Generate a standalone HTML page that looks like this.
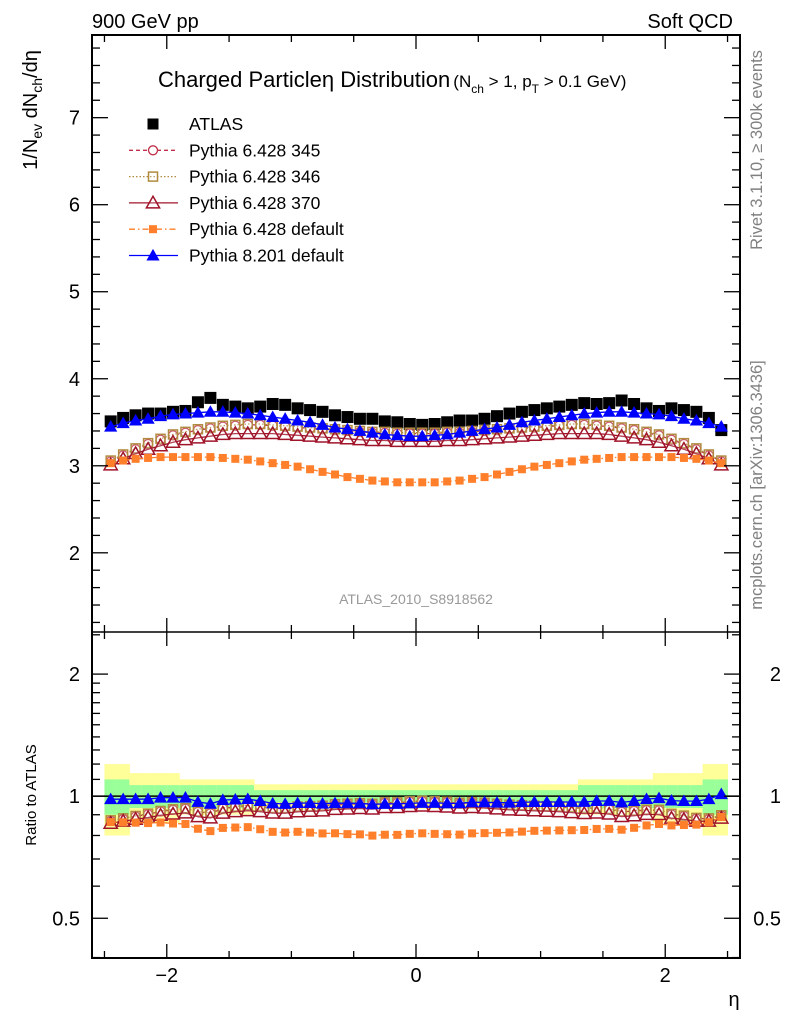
<!DOCTYPE html>
<html><head><meta charset="utf-8">
<style>
html,body{margin:0;padding:0;background:#fff;}
svg{display:block;font-family:"Liberation Sans",sans-serif;}
</style></head>
<body>
<svg id="chart" width="786" height="1024" viewBox="0 0 786 1024" xmlns="http://www.w3.org/2000/svg">
<text x="92" y="28" font-size="20">900 GeV pp</text>
<text x="733" y="28" font-size="20" text-anchor="end">Soft QCD</text>
<text x="158" y="87" font-size="22">Charged Particle<tspan>η</tspan> Distribution<tspan font-size="17" dx="3">(N</tspan><tspan font-size="12" dy="6">ch</tspan><tspan font-size="17" dy="-6"> &gt; 1, p</tspan><tspan font-size="12" dy="6">T</tspan><tspan font-size="17" dy="-6"> &gt; 0.1 GeV)</tspan></text>
<text transform="translate(37,110) rotate(-90)" font-size="20" text-anchor="middle">1/N<tspan font-size="14" dy="5">ev</tspan><tspan dy="-5"> dN</tspan><tspan font-size="14" dy="5">ch</tspan><tspan dy="-5">/dη</tspan></text>
<text transform="translate(36,795) rotate(-90)" font-size="15" text-anchor="middle">Ratio to ATLAS</text>
<text transform="translate(762,150) rotate(-90)" font-size="16.5" fill="#808080" text-anchor="middle">Rivet 3.1.10, ≥ 300k events</text>
<text transform="translate(762,485) rotate(-90)" font-size="16.5" fill="#808080" text-anchor="middle">mcplots.cern.ch [arXiv:1306.3436]</text>
<text x="416" y="604" font-size="14" fill="#999" text-anchor="middle">ATLAS_2010_S8918562</text>
<text x="734" y="1006" font-size="20" text-anchor="middle">η</text>
<g id="bands"></g><g id="series"></g><g id="axes"></g><g id="legend"></g>
</svg>
<script>
const binLo = -2.5, binW = 0.1;
const atlas = [3.51,3.55,3.58,3.60,3.60,3.62,3.63,3.73,3.78,3.70,3.68,3.66,3.68,3.71,3.70,3.66,3.64,3.62,3.58,3.56,3.54,3.54,3.51,3.50,3.48,3.47,3.48,3.50,3.52,3.52,3.54,3.57,3.60,3.62,3.64,3.66,3.68,3.70,3.72,3.71,3.72,3.75,3.71,3.66,3.63,3.66,3.64,3.62,3.55,3.41];
const errTot = [0.2,0.2,0.14,0.14,0.14,0.14,0.1,0.1,0.1,0.1,0.1,0.1,0.07,0.07,0.07,0.07,0.07,0.07,0.07,0.07,0.07,0.07,0.07,0.07,0.07,0.07,0.07,0.07,0.07,0.07,0.07,0.07,0.07,0.07,0.07,0.07,0.07,0.07,0.1,0.1,0.1,0.1,0.1,0.1,0.14,0.14,0.14,0.14,0.2,0.2];
const errStat = [0.1,0.1,0.065,0.065,0.065,0.065,0.065,0.065,0.065,0.065,0.065,0.065,0.035,0.035,0.035,0.035,0.035,0.035,0.035,0.035,0.035,0.035,0.035,0.035,0.035,0.035,0.035,0.035,0.035,0.035,0.035,0.035,0.035,0.035,0.035,0.035,0.035,0.035,0.065,0.065,0.065,0.065,0.065,0.065,0.065,0.065,0.065,0.065,0.1,0.1];
const py345 = [3.05,3.12,3.19,3.25,3.30,3.35,3.38,3.41,3.43,3.45,3.46,3.47,3.47,3.46,3.45,3.44,3.43,3.42,3.41,3.40,3.39,3.38,3.38,3.37,3.37,3.37,3.37,3.38,3.38,3.39,3.40,3.41,3.42,3.43,3.44,3.45,3.46,3.47,3.47,3.46,3.45,3.43,3.41,3.38,3.35,3.30,3.25,3.19,3.12,3.05];
const py346 = [3.06,3.13,3.20,3.26,3.31,3.36,3.39,3.42,3.44,3.46,3.47,3.48,3.48,3.47,3.46,3.45,3.44,3.43,3.42,3.41,3.40,3.39,3.39,3.38,3.38,3.38,3.38,3.39,3.39,3.40,3.41,3.42,3.43,3.44,3.45,3.46,3.47,3.48,3.48,3.47,3.46,3.44,3.42,3.39,3.36,3.31,3.26,3.20,3.13,3.06];
const py370 = [3.01,3.08,3.14,3.19,3.23,3.27,3.30,3.32,3.34,3.36,3.37,3.37,3.37,3.37,3.36,3.35,3.34,3.33,3.32,3.31,3.30,3.29,3.29,3.28,3.28,3.28,3.28,3.29,3.29,3.30,3.31,3.32,3.33,3.34,3.35,3.36,3.37,3.37,3.37,3.37,3.36,3.34,3.32,3.30,3.27,3.23,3.19,3.14,3.08,3.01];
const pyDef = [3.03,3.06,3.08,3.09,3.10,3.10,3.10,3.10,3.10,3.09,3.08,3.07,3.05,3.03,3.01,2.99,2.96,2.93,2.90,2.87,2.85,2.83,2.82,2.81,2.81,2.81,2.81,2.82,2.83,2.85,2.87,2.90,2.93,2.96,2.99,3.01,3.03,3.05,3.07,3.08,3.09,3.10,3.10,3.10,3.10,3.10,3.09,3.08,3.06,3.03];
const py8 = [3.45,3.49,3.52,3.54,3.57,3.59,3.60,3.61,3.62,3.62,3.61,3.60,3.58,3.56,3.54,3.52,3.50,3.47,3.44,3.42,3.40,3.38,3.36,3.35,3.34,3.34,3.35,3.36,3.38,3.40,3.42,3.44,3.47,3.50,3.52,3.54,3.56,3.58,3.60,3.61,3.62,3.62,3.61,3.60,3.59,3.57,3.54,3.52,3.49,3.45];
const mainTicks = [2,3,4,5,6,7];
const ratioTicks = [0.5,1,2];
const xTicks = [-2,0,2];

const NS='http://www.w3.org/2000/svg';
const L=92,R=740,T=35,MB=632,B=958;
const X0=-2.6,X1=2.6,Y0=1.09,Y1=7.95,RL0=Math.log2(0.399),RL1=Math.log2(2.54);
const xs=v=>L+(v-X0)/(X1-X0)*(R-L);
const ys=v=>MB-(v-Y0)/(Y1-Y0)*(MB-T);
const rs=v=>B-(Math.log2(v)-RL0)/(RL1-RL0)*(B-MB);
function mk(tag,a,parent){const e=document.createElementNS(NS,tag);for(const k in a)e.setAttribute(k,a[k]);parent.appendChild(e);return e;}
const gB=document.getElementById('bands'),gS=document.getElementById('series'),gA=document.getElementById('axes'),gL=document.getElementById('legend');
const ctr=i=>binLo+binW*(i+0.5);

atlas.forEach((v,i)=>{
  const x0=xs(binLo+binW*i),x1=xs(binLo+binW*(i+1));
  const y=mk('rect',{x:x0,y:rs(1+errTot[i]),width:x1-x0+0.5,height:rs(1-errTot[i])-rs(1+errTot[i]),fill:'#ffff99'},gB);
  
  
  const g=mk('rect',{x:x0,y:rs(1+errStat[i]),width:x1-x0+0.5,height:rs(1-errStat[i])-rs(1+errStat[i]),fill:'#99ff99'},gB);
  
  
});
const one=mk('line',{x1:L,x2:R,y1:rs(1),y2:rs(1),stroke:'#000','stroke-width':1.5},gB);



function marker(type,x,y,col,parent,sz){
  let e;
  if(type==='sqf') e=mk('rect',{x:x-sz/2,y:y-sz/2,width:sz,height:sz,fill:col},parent);
  else if(type==='circ') e=mk('circle',{cx:x,cy:y,r:sz/2,fill:'#fff',stroke:col,'stroke-width':1.3},parent);
  else if(type==='sqo') e=mk('rect',{x:x-sz/2,y:y-sz/2,width:sz,height:sz,fill:'#fff','fill-opacity':0.2,stroke:col,'stroke-width':1.5},parent);
  else if(type==='trio') e=mk('path',{d:`M${x},${y-sz*0.6}L${x+sz*0.6},${y+sz*0.45}L${x-sz*0.6},${y+sz*0.45}Z`,fill:'#fff','fill-opacity':0.2,stroke:col,'stroke-width':1.5},parent);
  else e=mk('path',{d:`M${x},${y-sz*0.6}L${x+sz*0.6},${y+sz*0.45}L${x-sz*0.6},${y+sz*0.45}Z`,fill:col},parent);
  return e;
}
const series=[
 {d:py345,name:'Pythia 6.428 345',col:'#c0304a',dash:'4,3',m:'circ',ms:9,key:'pythia-345'},
 {d:py346,name:'Pythia 6.428 346',col:'#b08a3e',dash:'1.5,2',m:'sqo',ms:9,key:'pythia-346'},
 {d:py370,name:'Pythia 6.428 370',col:'#a0142a',dash:'',m:'trio',ms:11,key:'pythia-370'},
 {d:pyDef,name:'Pythia 6.428 default',col:'#ff7f2a',dash:'6,3,1.5,3',m:'sqf',ms:8,key:'pythia6-default'},
 {d:py8,name:'Pythia 8.201 default',col:'#0000ff',dash:'',m:'trif',ms:11,key:'pythia8-default'}
];
atlas.forEach((v,i)=>{
  const e=marker('sqf',xs(ctr(i)),ys(v),'#000',gS,12);
  
  
});
series.forEach(s=>{
  const pm=s.d.map((v,i)=>`${i?'L':'M'}${xs(ctr(i)).toFixed(1)},${ys(v).toFixed(1)}`).join('');
  const l1=mk('path',{d:pm,fill:'none',stroke:s.col,'stroke-width':1.3,'stroke-dasharray':s.dash},gS);
  
  
  const pr=s.d.map((v,i)=>`${i?'L':'M'}${xs(ctr(i)).toFixed(1)},${rs(v/atlas[i]).toFixed(1)}`).join('');
  const l2=mk('path',{d:pr,fill:'none',stroke:s.col,'stroke-width':1.3,'stroke-dasharray':s.dash},gS);
  
  
  s.d.forEach((v,i)=>{
    const a=marker(s.m,xs(ctr(i)),ys(v),s.col,gS,s.ms);
    
    
    const b=marker(s.m,xs(ctr(i)),rs(v/atlas[i]),s.col,gS,s.ms);
    
    
  });
});
function ln(x1,y1,x2,y2,w,name){const e=mk('line',{x1,y1,x2,y2,stroke:'#000','stroke-width':w||1.5},gA);return e;}
const fr=mk('rect',{x:L,y:T,width:R-L,height:B-T,fill:'none',stroke:'#000','stroke-width':2},gA);


ln(L,MB,R,MB,1.5,'panel-divider');
for(let v=-2.5;v<=2.51;v+=0.5){
  const x=xs(v),maj=Math.abs(v-Math.round(v))<1e-6&&Math.round(v)%2===0;
  const len=maj?14:7;
  ln(x,T,x,T+len,1.3,'x-tick');ln(x,MB,x,MB-len,1.3,'x-tick');ln(x,MB,x,MB+len,1.3,'x-tick');ln(x,B,x,B-len,1.3,'x-tick');
}
xTicks.forEach(v=>{const t=mk('text',{x:xs(v),y:982,'font-size':20,'text-anchor':'middle'},gA);t.textContent=v<0?'−'+(-v):String(v);});
for(let v=1.2;v<7.95;v+=0.2){
  const y=ys(v),maj=Math.abs(v-Math.round(v))<1e-6;const len=maj?16:8;
  ln(L,y,L+len,y,1.3,'y-tick');ln(R,y,R-len,y,1.3,'y-tick');
}
mainTicks.forEach(v=>{const t=mk('text',{x:80,y:ys(v)+7,'font-size':20,'text-anchor':'end'},gA);t.textContent=String(v);});
const rmin=[0.4,0.5,0.6,0.7,0.8,0.9,1,1.1,1.2,1.3,1.4,1.5,1.6,1.7,1.8,1.9,2,2.5];
rmin.forEach(v=>{const y=rs(v),maj=ratioTicks.includes(v);const len=maj?16:8;ln(L,y,L+len,y,1.3,'ratio-tick');ln(R,y,R-len,y,1.3,'ratio-tick');});
ratioTicks.forEach(v=>{
  const a=mk('text',{x:80,y:rs(v)+7,'font-size':20,'text-anchor':'end'},gA);a.textContent=String(v);
  const b=mk('text',{x:781,y:rs(v)+7,'font-size':20,'text-anchor':'end'},gA);b.textContent=String(v);
});
const lg0=124,lgd=26.3;
const am=marker('sqf',153,lg0,'#000',gL,11);


const at=mk('text',{x:189,y:lg0+6,'font-size':17.5},gL);at.textContent='ATLAS';


series.forEach((s,k)=>{
  const y=lg0+lgd*(k+1);
  const l=mk('line',{x1:129,x2:178,y1:y,y2:y,stroke:s.col,'stroke-width':1.3,'stroke-dasharray':s.dash},gL);
  
  
  const m=marker(s.m,153,y,s.col,gL,s.ms);
  
  
  const t=mk('text',{x:189,y:y+6,'font-size':17.5},gL);t.textContent=s.name;
  
  
});
</script>
</body></html>
